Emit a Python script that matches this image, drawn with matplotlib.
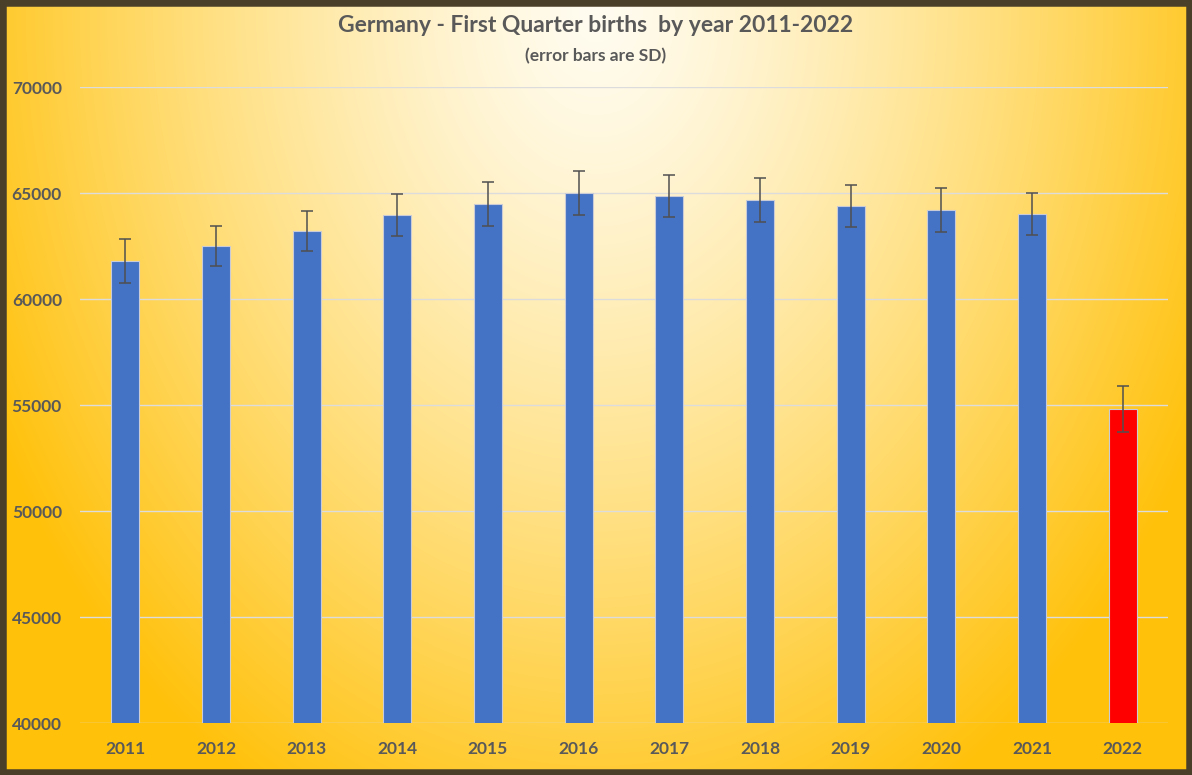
import numpy as np
import matplotlib.pyplot as plt
from matplotlib.patches import Rectangle

years = ['2011', '2012', '2013', '2014', '2015', '2016',
         '2017', '2018', '2019', '2020', '2021', '2022']
births = [61790, 62500, 63210, 63960, 64480, 65000,
          64860, 64670, 64390, 64200, 64010, 54810]
sd = [1040, 950, 950, 990, 1040, 1040, 990, 1040, 990, 1040, 990, 1090]
bar_colors = ['#4472C4'] * 11 + ['#FF0000']

W, H = 1192, 775
fig = plt.figure(figsize=(W / 100, H / 100), dpi=100)

# radial background: pale centre at top middle, gold towards the edges
bg = fig.add_axes([0, 0, 1, 1])
yy, xx = np.mgrid[0:H, 0:W]
r = np.sqrt(((xx - 596) / 680.0) ** 2 + ((yy - 10) / 900.0) ** 2)
t = np.clip(r, 0, 1) ** 1.3
c0 = np.array([255, 252, 240]) / 255.0
c1 = np.array([255, 193, 10]) / 255.0
img = c0[None, None, :] * (1 - t[..., None]) + c1[None, None, :] * t[..., None]
bg.imshow(img, aspect='auto', extent=[0, W, H, 0])
bg.set_xlim(0, W)
bg.set_ylim(H, 0)
bg.axis('off')

ax = fig.add_axes([80 / W, 1 - 723 / H, 1088 / W, (723 - 87) / H])
ax.patch.set_alpha(0)
x = np.arange(len(years))
ax.bar(x, births, width=0.31, color=bar_colors, edgecolor='#C9CCD6',
       linewidth=0.8, zorder=3)
ax.errorbar(x, births, yerr=sd, fmt='none', ecolor='#505050',
            elinewidth=1.1, capsize=4.5, capthick=1.1, zorder=4)

ax.set_xlim(-0.5, 11.5)
ax.set_ylim(40000, 70000)
ax.set_yticks(np.arange(40000, 70001, 5000))
ax.set_xticks(x)
ax.set_xticklabels(years)
ax.grid(axis='y', color='#DCDCDC', linewidth=1.0, zorder=0)
for s in ax.spines.values():
    s.set_visible(False)
ax.tick_params(length=0, colors='#595959', labelsize=12.5)
ax.tick_params(axis='y', pad=13)
ax.tick_params(axis='x', pad=13)
for lab in ax.get_xticklabels() + ax.get_yticklabels():
    lab.set_fontweight('bold')
    lab.set_fontfamily('Lato')

fig.text(596 / W, 1 - 26 / H, 'Germany - First Quarter births  by year 2011-2022',
         ha='center', va='center', fontsize=16.5, fontweight='bold',
         color='#595959', family='Lato')
fig.text(596 / W, 1 - 56 / H, '(error bars are SD)', ha='center', va='center',
         fontsize=12.5, fontweight='bold', color='#595959', family='Lato')

# dark frame around the picture
fig.patches.append(Rectangle((0, 0), 1, 1, transform=fig.transFigure,
                             fill=False, edgecolor='#4A3F28', linewidth=9))

fig.savefig('out.png', dpi=100)
